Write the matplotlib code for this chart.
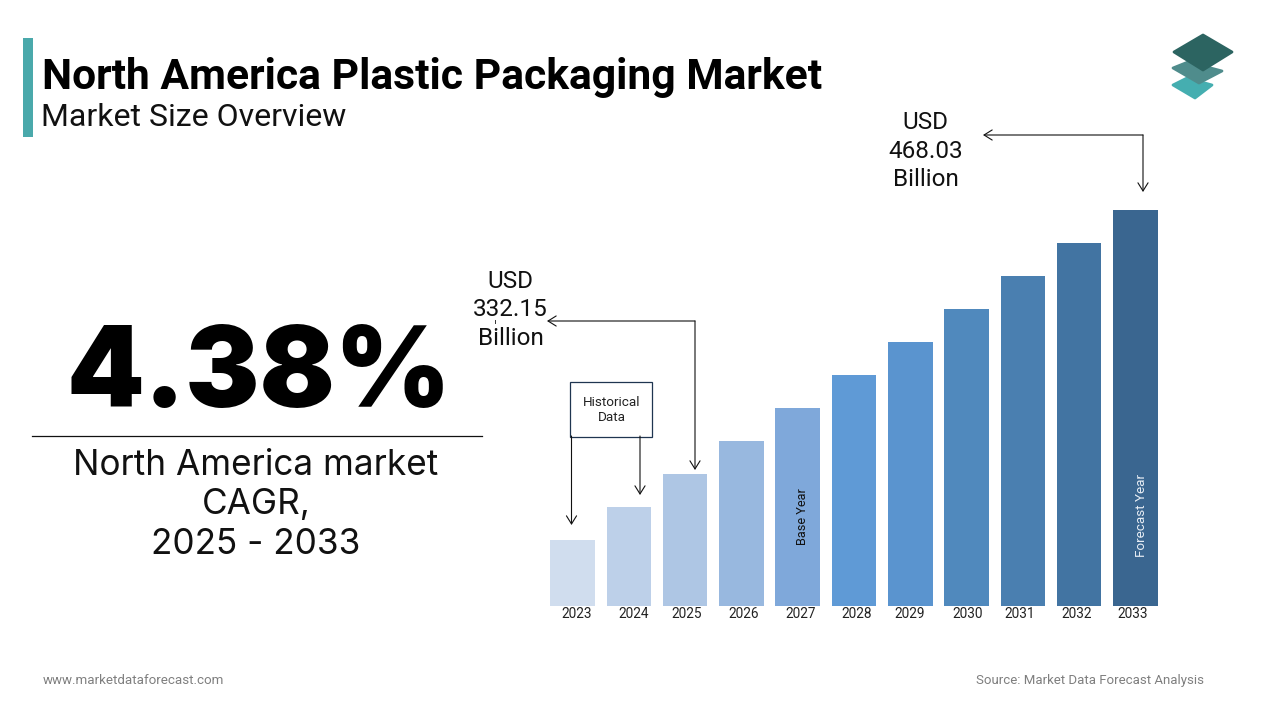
import matplotlib
matplotlib.use("Agg")
import matplotlib.pyplot as plt
from matplotlib.patches import Rectangle, Polygon

# ---- data ----
YEARS = ["2023", "2024", "2025", "2026", "2027", "2028", "2029", "2030", "2031", "2032", "2033"]
BAR_VALUES = [66, 99, 132, 165, 198, 231, 264, 297, 330, 363, 396]
BAR_COLORS = ["#D0DDEE", "#BDD0E9", "#AEC6E4", "#98B8DF", "#7FA8DA", "#5F9AD6", "#5A94CF",
              "#5089BD", "#4A7FB0", "#4274A2", "#3A6690"]
TICK_POS = [0.08, 0.09, 0.03, 0.04, 0.05, 0.05, -0.01, 0.01, -0.05, -0.04, -0.05]
TITLE = "North America Plastic Packaging Market"
SUBTITLE = "Market Size Overview"
CAGR = "4.38%"
CAGR_LABEL = "North America market\nCAGR,\n2025 - 2033"
LEFT_VALUE = "USD\n332.15\nBillion"
RIGHT_VALUE = "USD\n468.03\nBillion"

W, H = 1280, 720
plt.rcParams["font.family"] = ["Roboto", "DejaVu Sans"]
fig = plt.figure(figsize=(W / 100, H / 100), dpi=100, facecolor="white")

# overlay in pixel coordinates for text and callouts
ov = fig.add_axes([0, 0, 1, 1], zorder=3)
ov.set_xlim(0, W)
ov.set_ylim(H, 0)
ov.axis("off")
ov.patch.set_alpha(0)

# bar chart
step = 56.3
left = 572.5 - step / 2
ax = fig.add_axes([left / W, 1 - 606 / H, step * 11 / W, 396 / H], zorder=2)
ax.bar(range(len(YEARS)), BAR_VALUES, width=0.79, color=BAR_COLORS)
ax.set_xlim(-0.5, 10.5)
ax.set_ylim(0, 396)
ax.set_yticks([])
ax.set_xticks([i + d for i, d in enumerate(TICK_POS)], YEARS, fontsize=9.8, color="#222222")
ax.tick_params(axis="x", length=0, pad=1)
for s in ax.spines.values():
    s.set_visible(False)
ax.patch.set_alpha(0)
ax.text(4.09, 89.5, "Base Year", rotation=90, ha="center", va="center", fontsize=9.2, color="#111111")
ax.text(10.11, 90.5, "Forecast Year", rotation=90, ha="center", va="center", fontsize=9.7, color="#E8EEF5")

# header
ov.add_patch(Rectangle((23, 38), 10, 99, color="#4AA9AB", lw=0))
ov.text(42, 77, TITLE, fontsize=30.7, fontweight="bold", va="center", ha="left", color="#000000")
ov.text(41, 118, SUBTITLE, fontsize=23, va="center", ha="left", color="#111111")

# logo
ROUND = dict(closed=True, lw=2, joinstyle="round")
ov.add_patch(Polygon([(1173, 85), (1187, 78), (1212, 85), (1195, 98)], fc="#45AEB0", ec="#45AEB0", **ROUND))
ov.add_patch(Polygon([(1173, 68), (1188, 62), (1222, 71), (1199, 83)], fc="#4F8C8C", ec="#4F8C8C", **ROUND))
ov.add_patch(Polygon([(1174, 52), (1203, 35), (1232, 52), (1203, 70)], fc="#2C6461", ec="#2C6461", **ROUND))

# left panel
ov.text(258.5, 378, CAGR, fontsize=80, fontweight="black", family=["Inter", "Roboto"], ha="center", va="center", color="#000000")
ov.plot([32, 481.5], [436.2, 436.2], color="#111111", lw=0.9)
ov.text(256, 505, CAGR_LABEL, fontsize=25.3, family=["Inter", "Roboto"], ha="center", va="center", color="#111111", linespacing=1.24)

# callouts
ARROW = dict(arrowstyle="->,head_length=0.45,head_width=0.28", lw=0.8, color="#111111",
             mutation_scale=13, shrinkA=0, shrinkB=0)

def callout(start, end):
    ov.annotate("", xy=end, xytext=start, arrowprops=ARROW)

callout((695, 321), (547, 321))
callout((695, 321), (695, 470))
callout((1143, 135), (983, 135))
callout((1143, 135), (1143, 192))
callout((571.5, 436), (571.5, 525))
callout((640, 436), (640, 495))
ov.plot([494.5, 494.5], [320, 322.5], color="#333333", lw=0.7)
ov.add_patch(Rectangle((570, 382), 82, 54.5, fill=False, ec="#1F3550", lw=0.9))
ov.text(611.5, 410, "Historical\nData", fontsize=9.7, ha="center", va="center", color="#222222", linespacing=1.28)

ov.text(510.5, 310, LEFT_VALUE, fontsize=17.5, ha="center", va="center", color="#111111", linespacing=1.28)
ov.text(925.5, 151, RIGHT_VALUE, fontsize=17.5, ha="center", va="center", color="#111111", linespacing=1.28)

# footer
ov.text(43, 680, "www.marketdataforecast.com", fontsize=9.6, ha="left", va="center", color="#7F7F7F")
ov.text(1204, 680.5, "Source: Market Data Forecast Analysis", fontsize=9.55, ha="right", va="center", color="#7F7F7F")

fig.savefig("out.png", dpi=100, facecolor="white")
